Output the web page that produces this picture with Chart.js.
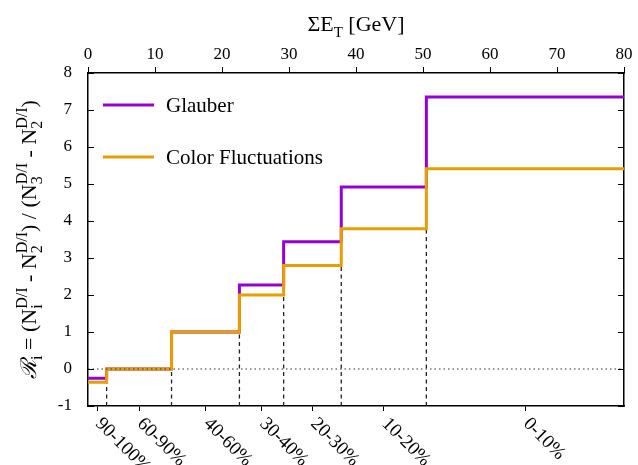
<!DOCTYPE html>
<html>
<head>
<meta charset="utf-8">
<script src="https://cdn.jsdelivr.net/npm/chart.js@4"></script>
<style>
  body { margin: 0; background: #fff; }
</style>
</head>
<body>
<canvas id="chart" width="638" height="465"></canvas>
<script>
// bin edges in Sum E_T [GeV] and the value in each bin
const edges = [0, 2.78, 12.47, 22.6, 29.2, 37.8, 50.5, 80];
const centrality = ['90-100%', '60-90%', '40-60%', '30-40%', '20-30%', '10-20%', '0-10%'];
const glauber = [-0.25, 0, 1, 2.27, 3.44, 4.92, 7.35];
const colorFluct = [-0.36, 0, 1, 2.0, 2.8, 3.79, 5.41];
const yTicks = [-1, 0, 1, 2, 3, 4, 5, 6, 7, 8];

const serif = "'Liberation Serif', 'Times New Roman', serif";
const purple = '#9400D3';
const orange = '#E69F00';

// step points: each edge carries the level of the bin starting there
function steps(vals) {
  return edges.map((x, i) => ({ x: x, y: vals[Math.min(i, vals.length - 1)] }));
}

// dashed verticals at the inner edges, from -1 up to the lower level
const dashPts = [];
for (let i = 1; i < edges.length - 1; i++) {
  dashPts.push({ x: edges[i], y: -1 });
  dashPts.push({ x: edges[i], y: colorFluct[i - 1] });
  dashPts.push({ x: edges[i], y: null });
}

const mids = centrality.map((c, i) => (edges[i] + edges[i + 1]) / 2);

// text runs with stacked sub/sup
function runsWidth(ctx, runs, big, small) {
  let w = 0;
  runs.forEach(r => {
    if (r.t !== undefined) {
      ctx.font = (r.it ? 'italic ' : '') + big + 'px ' + serif;
      w += ctx.measureText(r.t).width;
    } else {
      ctx.font = small + 'px ' + serif;
      w += Math.max(r.sub ? ctx.measureText(r.sub).width : 0, r.sup ? ctx.measureText(r.sup).width : 0);
    }
  });
  return w;
}
function drawRuns(ctx, runs, x, y, big, small) {
  ctx.textAlign = 'left';
  ctx.textBaseline = 'alphabetic';
  runs.forEach(r => {
    if (r.t !== undefined) {
      ctx.font = (r.it ? 'italic ' : '') + big + 'px ' + serif;
      ctx.fillText(r.t, x, y);
      x += ctx.measureText(r.t).width;
    } else {
      ctx.font = small + 'px ' + serif;
      let w = 0;
      if (r.sub) { ctx.fillText(r.sub, x, y + big * 0.25); w = ctx.measureText(r.sub).width; }
      if (r.sup) { ctx.fillText(r.sup, x, y - big * 0.42); w = Math.max(w, ctx.measureText(r.sup).width); }
      x += w;
    }
  });
}

const yTitle = [
  { t: '\u211B', it: true }, { sub: 'i' }, { t: ' = (N' }, { sub: 'i', sup: 'D/I' },
  { t: ' - N' }, { sub: '2', sup: 'D/I' }, { t: ') / (N' }, { sub: '3', sup: 'D/I' },
  { t: ' - N' }, { sub: '2', sup: 'D/I' }, { t: ')' }
];
const xTitle = [{ t: '\u03A3E' }, { sub: 'T' }, { t: ' [GeV]' }];

const series = [
  { label: 'Glauber', color: purple },
  { label: 'Color Fluctuations', color: orange }
];

const extras = {
  id: 'extras',
  afterDraw(chart) {
    const ctx = chart.ctx;
    const a = chart.chartArea;
    const y = chart.scales.y;
    const xb = chart.scales.xb;
    ctx.save();
    ctx.fillStyle = '#000';
    ctx.strokeStyle = '#000';
    ctx.lineWidth = 1;

    // inward ticks on left and right
    yTicks.forEach(v => {
      const py = Math.round(y.getPixelForValue(v)) + 0.5;
      ctx.beginPath();
      ctx.moveTo(a.left, py); ctx.lineTo(a.left + 6, py);
      ctx.moveTo(a.right, py); ctx.lineTo(a.right - 6, py);
      ctx.stroke();
    });

    // rotated centrality labels
    ctx.font = '19px ' + serif;
    ctx.textAlign = 'left';
    ctx.textBaseline = 'middle';
    centrality.forEach((c, i) => {
      const px = xb.getPixelForValue(mids[i]);
      ctx.save();
      ctx.translate(px + 1, 421);
      ctx.rotate(Math.PI / 4);
      ctx.fillText(c, 0, 0);
      ctx.restore();
    });

    // legend
    series.forEach((s, i) => {
      const ly = 105 + i * 52;
      ctx.strokeStyle = s.color;
      ctx.lineWidth = 3;
      ctx.beginPath();
      ctx.moveTo(103, ly); ctx.lineTo(154, ly);
      ctx.stroke();
      ctx.font = '21px ' + serif;
      ctx.textAlign = 'left';
      ctx.textBaseline = 'middle';
      ctx.fillText(s.label, 166, ly + 1);
    });

    // top title
    const wt = runsWidth(ctx, xTitle, 22, 15);
    drawRuns(ctx, xTitle, (a.left + a.right) / 2 - wt / 2, 31, 22, 15);

    // y title
    ctx.save();
    ctx.translate(36, (a.top + a.bottom) / 2);
    ctx.rotate(-Math.PI / 2);
    const wy = runsWidth(ctx, yTitle, 22, 16);
    drawRuns(ctx, yTitle, -wy / 2, 0, 22, 16);
    ctx.restore();

    ctx.restore();
  }
};

const frame = { color: '#000', width: 1.5 };

new Chart(document.getElementById('chart'), {
  type: 'line',
  data: {
    datasets: [
      {
        label: 'zero',
        data: [{ x: edges[0], y: 0 }, { x: edges[edges.length - 1], y: 0 }],
        borderColor: '#333', borderWidth: 1, borderDash: [1.5, 3],
        pointRadius: 0, xAxisID: 'x', yAxisID: 'y'
      },
      {
        label: 'Color Fluctuations',
        data: steps(colorFluct),
        stepped: true,
        borderColor: orange, borderWidth: 3,
        pointRadius: 0, xAxisID: 'x', yAxisID: 'y'
      },
      {
        label: 'Glauber',
        data: steps(glauber),
        stepped: true,
        borderColor: purple, borderWidth: 3,
        pointRadius: 0, xAxisID: 'x', yAxisID: 'y'
      },
      {
        label: 'edges',
        data: dashPts,
        spanGaps: false,
        borderColor: '#222', borderWidth: 1.3, borderDash: [4, 3.5],
        pointRadius: 0, xAxisID: 'x', yAxisID: 'y'
      }
    ]
  },
  options: {
    responsive: false,
    animation: false,
    layout: { padding: 0 },
    plugins: { legend: { display: false }, tooltip: { enabled: false } },
    scales: {
      x: {
        type: 'linear', position: 'top', min: 0, max: 80,
        afterFit: s => { s.height = 73; },
        ticks: { stepSize: 10, color: '#000', font: { family: serif, size: 17 }, padding: 2, maxRotation: 0 },
        grid: { drawOnChartArea: false, tickLength: 6, color: '#000' },
        border: frame
      },
      xb: {
        type: 'linear', position: 'bottom', min: 0, max: 80,
        afterFit: s => { s.height = 59; },
        afterBuildTicks: s => { s.ticks = mids.map(v => ({ value: v })); },
        ticks: { display: false },
        grid: { drawOnChartArea: false, tickLength: 5, color: '#000' },
        border: frame
      },
      y: {
        type: 'linear', position: 'left', min: -1, max: 8,
        afterFit: s => { s.width = 88; },
        ticks: { stepSize: 1, color: '#000', font: { family: serif, size: 17 }, padding: 8 },
        grid: { display: false },
        border: frame
      },
      yr: {
        type: 'linear', position: 'right', min: -1, max: 8,
        afterFit: s => { s.width = 14; },
        ticks: { display: false },
        grid: { display: false },
        border: frame
      }
    }
  },
  plugins: [extras]
});
</script>
</body>
</html>
